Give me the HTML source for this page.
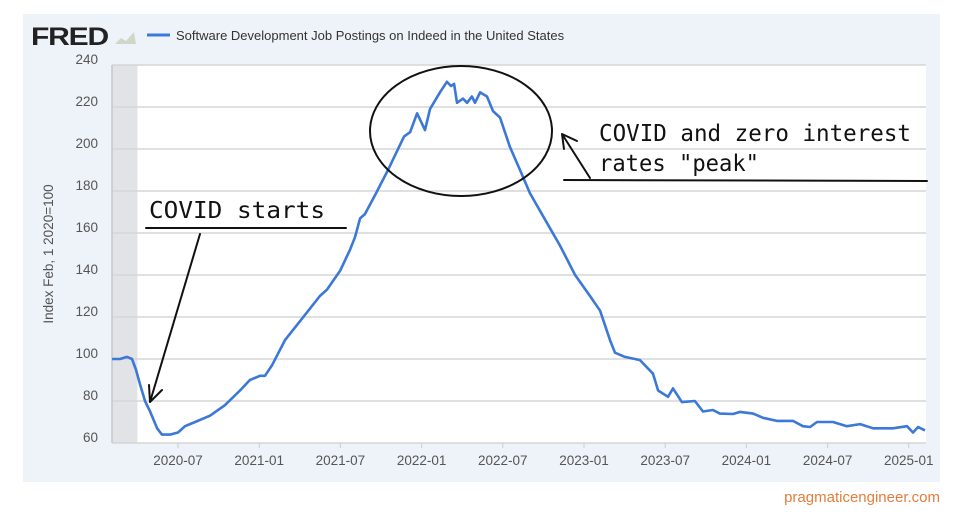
<!DOCTYPE html>
<html><head><meta charset="utf-8"><style>
body{margin:0;width:960px;height:517px;background:#fff;overflow:hidden;font-family:"Liberation Sans",sans-serif}
svg{position:absolute;left:0;top:0}
</style></head><body>
<svg width="960" height="517" viewBox="0 0 960 517">
<rect x="23" y="14" width="917" height="468" fill="#eef3f9"/>
<text x="31" y="45" font-size="25" font-weight="bold" fill="#222" letter-spacing="-1" textLength="77" lengthAdjust="spacingAndGlyphs">FRED</text>
<path d="M115 44 L121 38 L126 41 L134 32 L136 44 Z" fill="#cfd8c8"/>
<line x1="147" y1="35" x2="170" y2="35" stroke="#3b78d8" stroke-width="3"/>
<text x="176" y="40" font-size="13" fill="#333">Software Development Job Postings on Indeed in the United States</text>
<g id="plot"></g>
<text transform="translate(53,254) rotate(-90)" text-anchor="middle" font-size="13.5" fill="#555">Index Feb, 1 2020=100</text>
<text x="940" y="502" text-anchor="end" font-size="15" fill="#e47d3d">pragmaticengineer.com</text>
<g font-family="'DejaVu Sans Mono',monospace" fill="#111" font-size="23">
<text x="149" y="218" textLength="176" lengthAdjust="spacingAndGlyphs">COVID starts</text>
<text x="599" y="141" textLength="312" lengthAdjust="spacingAndGlyphs">COVID and zero interest</text>
<text x="599" y="171" textLength="160" lengthAdjust="spacingAndGlyphs">rates "peak"</text>
</g>
<g stroke="#111" fill="none" stroke-width="2" stroke-linecap="round">
<line x1="146" y1="228" x2="346" y2="228"/>
<path d="M200 234 L150 402 M150 402 L149 385 M150 402 L162 390"/>
<line x1="564" y1="180" x2="927" y2="181"/>
<path d="M590 178 L562 134 M562 134 L577 141 M562 134 L564 149"/>
<ellipse cx="461" cy="131" rx="91" ry="65"/>
</g>
</svg>
<script>
const dates=[2020.094,2020.143,2020.186,2020.217,2020.241,2020.266,2020.297,2020.328,2020.371,2020.401,2020.451,2020.5,2020.543,2020.605,2020.697,2020.789,2020.882,2020.943,2021.005,2021.036,2021.079,2021.159,2021.251,2021.374,2021.417,2021.498,2021.559,2021.59,2021.621,2021.651,2021.713,2021.793,2021.836,2021.892,2021.929,2021.972,2022.021,2022.052,2022.113,2022.156,2022.181,2022.2,2022.218,2022.255,2022.28,2022.31,2022.329,2022.36,2022.403,2022.44,2022.483,2022.544,2022.606,2022.667,2022.748,2022.852,2022.945,2023.037,2023.099,2023.16,2023.191,2023.252,2023.314,2023.345,2023.425,2023.456,2023.517,2023.548,2023.603,2023.683,2023.733,2023.794,2023.837,2023.917,2023.961,2024.041,2024.102,2024.188,2024.287,2024.348,2024.392,2024.435,2024.533,2024.619,2024.7,2024.78,2024.903,2024.989,2025.026,2025.057,2025.1];
const values=[100,100,101,100,95,88,80,75,67,64,64,65,68,70,73,78,85,90,92,92,97,109,118,130,133,142,152,158,167,169,178,190,197,206,208,217,209,219,227,232,230,231,222,224,222,225,222,227,225,218,215,201,190,179,168,154,140,130,123,109,103,101,100,99.5,93,85,82,86,79.5,80,75,75.7,74,73.8,74.8,74,72,70.5,70.5,68,67.6,70,70,68,69,67,67,68,65,67.6,66];
const yTicks=[60,80,100,120,140,160,180,200,220,240];
const xTicks=[2020.5,2021,2021.5,2022,2022.5,2023,2023.5,2024,2024.5,2025];
const xTickLabels=["2020-07","2021-01","2021-07","2022-01","2022-07","2023-01","2023-07","2024-01","2024-07","2025-01"];
const recession=[2020.094,2020.25];
const L=112,R=926,T=65,B=443;
const x=t=>178+(t-2020.5)*162.4;
const y=v=>B-(v-60)*(B-T)/180;
const NS="http://www.w3.org/2000/svg";
const g=document.getElementById('plot');
function mk(tag,at){const e=document.createElementNS(NS,tag);for(const k in at)e.setAttribute(k,at[k]);g.appendChild(e);return e;}
let bg=mk('rect',{x:L,y:T,width:R-L,height:B-T,fill:'#fff'});


let rc=mk('rect',{x:x(recession[0]),y:T,width:x(recession[1])-x(recession[0]),height:B-T,fill:'#e1e3e6'});


yTicks.forEach(v=>{
 let l=mk('line',{x1:L,x2:R,y1:y(v),y2:y(v),stroke:'#d6d6d6','stroke-width':1.5});
 
 
 let t=mk('text',{x:98,y:y(v)-1,'text-anchor':'end','font-size':13.5,fill:'#555'});
 t.textContent=v;
 
 
});
let ax=mk('line',{x1:L,x2:L,y1:T,y2:B,stroke:'#c8c8c8','stroke-width':1.5});


xTicks.forEach((t,i)=>{
 let tk=mk('line',{x1:x(t),x2:x(t),y1:B,y2:B+5,stroke:'#ccc'});
 
 
 let tx=mk('text',{x:x(t),y:465,'text-anchor':'middle','font-size':13.5,fill:'#555'});
 tx.textContent=xTickLabels[i];
 
 
});
let d=dates.map((t,i)=>(i?'L':'M')+x(t).toFixed(1)+' '+y(values[i]).toFixed(1)).join(' ');
let p=mk('path',{d:d,fill:'none',stroke:'#3b78d8','stroke-width':2.6,'stroke-linejoin':'round'});


</script>
</body></html>
